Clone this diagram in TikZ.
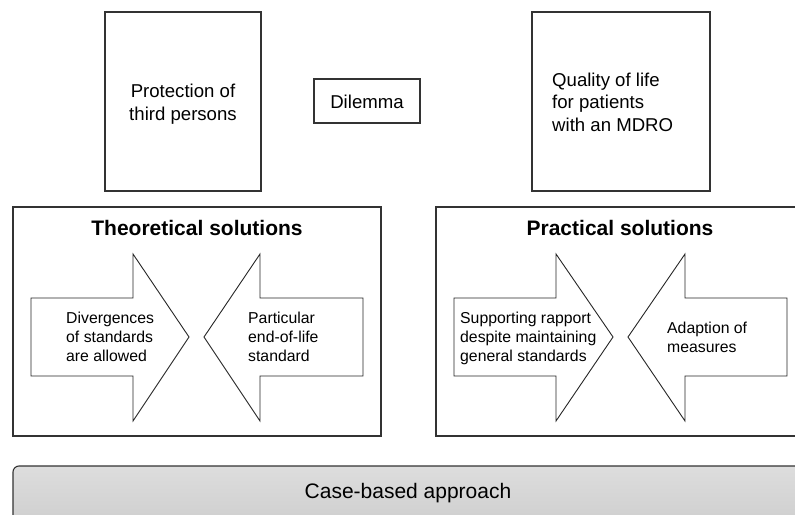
\documentclass[tikz,border=0pt]{standalone}
\usepackage{fontspec}
\setmainfont{Liberation Sans}
\begin{document}
\begin{tikzpicture}[x=1pt,y=-1pt,
  frame/.style={draw=black!80,line width=1.1pt},
  arrowshape/.style={draw=black!85,line width=0.9pt,fill=white,line join=miter},
  toptext/.style={font=\fontsize{18.6}{22.5}\selectfont,inner sep=0pt},
  titletext/.style={font=\fontsize{21}{25}\selectfont\bfseries,inner sep=0pt},
  arrowtext/.style={font=\fontsize{15.8}{19}\selectfont,inner sep=0pt,align=left,anchor=west}]
\useasboundingbox (0,0) rectangle (795,514);
\clip (0,0) rectangle (795,514);
% top boxes
\draw[frame] (105,12) rectangle (261,191);
\node[toptext,align=center] (prot) at (183,104) {Protection of\\third persons};
\draw[frame] (314,79) rectangle (420,123);
\node[toptext] (dil) at (367,102) {Dilemma};
\draw[frame] (532,12) rectangle (710,191);
\node[toptext,align=left,anchor=west] (qual) at (552,102) {Quality of life\\for patients\\with an MDRO};
% theoretical
\draw[frame] (13,207) rectangle (381,436);
\node[titletext] (theo) at (197,228) {Theoretical solutions};
\draw[arrowshape] (31,298) -- (133,298) -- (133,254) -- (189,337) -- (133,421) -- (133,376) -- (31,376) -- cycle;
\draw[arrowshape] (363,298) -- (260,298) -- (260,254) -- (204,337) -- (260,421) -- (260,376) -- (363,376) -- cycle;
\node[arrowtext] (div) at (66,337) {Divergences\\of standards\\are allowed};
\node[arrowtext] (part) at (248,337) {Particular\\end-of-life\\standard};
% practical
\draw[frame] (436,207) rectangle (804,436);
\node[titletext] (prac) at (620,228) {Practical solutions};
\draw[arrowshape] (454,298) -- (556,298) -- (556,254) -- (613,337) -- (556,421) -- (556,376) -- (454,376) -- cycle;
\draw[arrowshape] (787,298) -- (685,298) -- (685,254) -- (628,337) -- (685,421) -- (685,376) -- (787,376) -- cycle;
\node[arrowtext] (supp) at (460,338) {Supporting rapport\\despite maintaining\\general standards};
\node[arrowtext] (adap) at (667,337) {Adaption of\\measures};
% bottom
\draw[frame,rounded corners=6pt,top color={rgb,255:red,221;green,221;blue,221},bottom color={rgb,255:red,204;green,204;blue,204}] (13,466) rectangle (804,535);
\node[font=\fontsize{21}{25}\selectfont,inner sep=0pt,anchor=base] (case) at (408,498) {Case-based approach};
\end{tikzpicture}
\end{document}
